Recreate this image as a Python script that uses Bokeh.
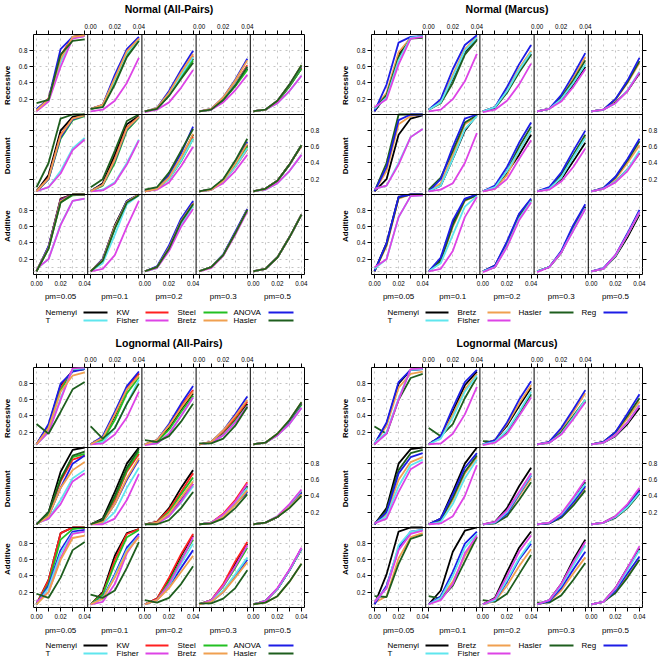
from math import pi
from bokeh.plotting import figure
from bokeh.models import Range1d, FixedTicker, LinearAxis, Grid, Span, ColumnDataSource
from bokeh.layouts import column, row
from bokeh.core.properties import value
from bokeh.embed import file_html
from bokeh.resources import INLINE

FONT = "Liberation Sans"

# ---------------- data ----------------
X_POWER = [0.00, 0.01, 0.02, 0.03, 0.04]
PM_LABELS = ["pm=0.05", "pm=0.1", "pm=0.2", "pm=0.3", "pm=0.5"]
MODEL_LABELS = ["Recessive", "Dominant", "Additive"]
TITLES = ["Normal (All-Pairs)", "Normal (Marcus)", "Lognormal (All-Pairs)", "Lognormal (Marcus)"]
X_TICKS = [0.00, 0.01, 0.02, 0.03, 0.04]
X_TICK_TEXT = {0.00: "0.00", 0.02: "0.02", 0.04: "0.04"}
Y_TICKS = [0.2, 0.4, 0.6, 0.8]
Y_TICK_TEXT = ["0.2", "0.4", "0.6", "0.8"]
Y_GRID = [0.05, 0.1, 0.2, 0.4, 0.6, 0.8]

AP_NAMES = ["Nemenyi", "KW", "Steel", "ANOVA", "T", "Fisher", "Bretz", "Hasler"]
MA_NAMES = ["Nemenyi", "Bretz", "Hasler", "Reg", "T", "Fisher"]
COLORS = {"Nemenyi": "#000000", "KW": "#ff2020", "Steel": "#22c022", "ANOVA": "#1c1ce6",
          "Reg": "#1c1ce6", "T": "#5fe6ee", "Fisher": "#dd44e6", "Bretz": "#f0a050",
          "Hasler": "#1e5e1e"}

# rows: Recessive pm=.05..pm=.5, Dominant pm=.05..pm=.5, Additive pm=.05..pm=.5
NAP_NEMENYI = [
 [.06,.20,.72,.97,.99],[.08,.12,.45,.78,.95],[.05,.08,.25,.48,.70],[.05,.07,.19,.37,.58],[.05,.07,.17,.36,.58],
 [.05,.25,.80,.97,1.0],[.05,.15,.50,.88,.98],[.05,.08,.22,.46,.75],[.05,.07,.18,.38,.62],[.05,.08,.18,.38,.62],
 [.05,.35,.95,1.0,1.0],[.05,.20,.62,.92,1.0],[.05,.10,.35,.68,.90],[.05,.10,.25,.52,.81],[.05,.08,.22,.47,.75]]
NAP_KW = [
 [.06,.21,.74,.97,.99],[.08,.13,.47,.80,.96],[.05,.08,.27,.52,.74],[.05,.07,.20,.39,.62],[.05,.07,.17,.37,.59],
 [.05,.22,.75,.95,.99],[.05,.13,.45,.84,.97],[.05,.08,.21,.45,.72],[.05,.07,.17,.35,.57],[.05,.08,.18,.38,.61],
 [.05,.35,.94,1.0,1.0],[.05,.19,.60,.90,1.0],[.05,.10,.34,.66,.89],[.05,.10,.25,.52,.81],[.05,.08,.22,.47,.75]]
NAP_STEEL = [
 [.06,.19,.70,.96,.99],[.08,.11,.42,.75,.93],[.05,.08,.25,.47,.68],[.05,.07,.19,.36,.56],[.05,.07,.17,.36,.58],
 [.05,.20,.70,.93,.98],[.05,.12,.40,.80,.96],[.05,.08,.20,.42,.70],[.05,.07,.18,.37,.60],[.05,.08,.18,.38,.62],
 [.05,.33,.90,.99,1.0],[.05,.18,.58,.90,1.0],[.05,.10,.33,.65,.88],[.05,.10,.25,.52,.81],[.05,.08,.22,.47,.75]]
NAP_ANOVA = [
 [.08,.20,.82,.97,.98],[.08,.13,.50,.82,.97],[.05,.09,.30,.56,.80],[.05,.08,.22,.44,.70],[.05,.07,.18,.38,.61],
 [.05,.20,.72,.94,.99],[.05,.13,.43,.82,.97],[.05,.09,.25,.52,.85],[.05,.07,.19,.40,.66],[.05,.08,.18,.38,.62],
 [.05,.36,.93,1.0,1.0],[.05,.20,.60,.92,1.0],[.05,.11,.37,.70,.92],[.05,.10,.26,.54,.82],[.05,.08,.22,.47,.75]]
NAP_T = [
 [.06,.18,.66,.96,.98],[.08,.12,.44,.77,.94],[.05,.08,.26,.50,.72],[.05,.07,.20,.38,.60],[.05,.07,.15,.30,.49],
 [.05,.10,.30,.58,.71],[.05,.07,.16,.40,.69],[.05,.08,.20,.43,.70],[.05,.07,.17,.35,.58],[.05,.07,.15,.30,.50],
 [.08,.20,.63,.92,.95],[.05,.15,.50,.88,.99],[.05,.09,.32,.63,.86],[.05,.10,.25,.51,.80],[.05,.08,.22,.47,.75]]
NAP_FISHER = [
 [.05,.17,.60,.95,.98],[.05,.07,.18,.40,.71],[.04,.07,.16,.34,.56],[.05,.07,.16,.31,.50],[.05,.07,.15,.30,.49],
 [.05,.10,.27,.56,.69],[.05,.06,.15,.38,.68],[.05,.07,.16,.36,.60],[.05,.07,.15,.30,.50],[.05,.07,.15,.30,.50],
 [.08,.20,.62,.92,.95],[.05,.08,.25,.60,.92],[.05,.09,.30,.60,.82],[.05,.09,.24,.50,.79],[.05,.08,.22,.47,.75]]
NAP_BRETZ = [
 [.06,.20,.70,.97,.99],[.08,.13,.46,.79,.95],[.05,.09,.28,.53,.76],[.05,.08,.22,.43,.68],[.05,.07,.18,.38,.62],
 [.05,.21,.74,.95,.99],[.05,.13,.44,.83,.97],[.05,.08,.22,.47,.76],[.05,.07,.18,.39,.64],[.05,.08,.18,.38,.62],
 [.05,.34,.92,1.0,1.0],[.05,.19,.60,.91,1.0],[.05,.10,.34,.67,.89],[.05,.10,.25,.52,.81],[.05,.08,.22,.47,.75]]
NAP_HASLER = [
 [.15,.19,.75,.92,.94],[.08,.10,.38,.72,.92],[.05,.08,.24,.45,.65],[.05,.07,.19,.37,.60],[.05,.07,.18,.38,.62],
 [.10,.40,.95,1.0,1.0],[.10,.20,.55,.92,1.0],[.07,.10,.28,.55,.82],[.05,.08,.20,.43,.70],[.05,.08,.18,.38,.62],
 [.05,.33,.90,1.0,1.0],[.05,.18,.58,.90,.99],[.05,.10,.33,.66,.88],[.05,.10,.25,.52,.81],[.05,.08,.22,.47,.75]]

NMA_NEMENYI = [
 [.05,.25,.75,.96,.98],[.07,.17,.45,.78,.95],[.05,.10,.30,.55,.76],[.05,.08,.20,.38,.60],[.05,.07,.16,.30,.52],
 [.05,.20,.75,.95,.99],[.05,.12,.45,.80,.99],[.05,.10,.28,.50,.75],[.05,.08,.20,.42,.65],[.05,.08,.17,.32,.52],
 [.05,.40,.97,1.0,1.0],[.05,.20,.65,.94,1.0],[.05,.12,.40,.75,.94],[.05,.10,.28,.60,.85],[.05,.08,.23,.47,.75]]
NMA_BRETZ = [
 [.08,.28,.78,.96,.98],[.07,.18,.50,.82,.97],[.05,.10,.32,.58,.80],[.05,.08,.23,.46,.72],[.05,.07,.19,.40,.65],
 [.05,.30,.88,.98,1.0],[.05,.15,.50,.88,.98],[.05,.08,.25,.55,.80],[.05,.08,.22,.48,.72],[.05,.08,.20,.40,.62],
 [.05,.36,.95,1.0,1.0],[.05,.17,.60,.92,.99],[.05,.10,.38,.72,.93],[.05,.10,.28,.58,.83],[.05,.08,.24,.50,.78]]
NMA_HASLER = [
 [.08,.25,.72,.95,.96],[.07,.15,.40,.75,.93],[.05,.09,.28,.53,.75],[.05,.08,.22,.43,.68],[.05,.07,.20,.41,.67],
 [.05,.40,1.0,1.0,1.0],[.07,.22,.55,.90,.99],[.05,.10,.30,.60,.85],[.05,.09,.26,.50,.75],[.05,.09,.22,.43,.67],
 [.05,.38,.96,1.0,1.0],[.05,.18,.62,.93,.99],[.05,.10,.38,.72,.93],[.05,.10,.28,.58,.83],[.05,.08,.24,.50,.78]]
NMA_REG = [
 [.05,.38,.90,.97,.98],[.07,.20,.57,.87,.99],[.05,.10,.35,.63,.87],[.05,.08,.25,.50,.77],[.05,.07,.20,.43,.71],
 [.05,.35,.93,1.0,1.0],[.05,.20,.60,.95,1.0],[.05,.12,.35,.65,.90],[.05,.10,.28,.55,.80],[.05,.09,.23,.45,.70],
 [.05,.40,.97,1.0,1.0],[.05,.22,.68,.95,1.0],[.05,.12,.42,.76,.95],[.05,.10,.30,.62,.88],[.05,.09,.25,.52,.81]]
NMA_T = [
 [.08,.22,.68,.96,.98],[.07,.16,.47,.80,.96],[.05,.10,.30,.56,.78],[.05,.08,.20,.40,.63],[.05,.07,.15,.31,.54],
 [.08,.12,.40,.72,.82],[.05,.12,.45,.82,.98],[.05,.10,.30,.55,.80],[.05,.08,.22,.47,.71],[.05,.08,.17,.32,.55],
 [.08,.20,.72,.98,.99],[.05,.15,.50,.85,.98],[.05,.10,.36,.70,.92],[.05,.10,.28,.56,.83],[.05,.08,.24,.50,.78]]
NMA_FISHER = [
 [.10,.20,.63,.95,.97],[.05,.07,.20,.42,.76],[.04,.07,.18,.38,.64],[.05,.08,.17,.35,.57],[.05,.07,.15,.30,.53],
 [.08,.12,.38,.72,.82],[.05,.07,.15,.40,.77],[.05,.08,.20,.45,.68],[.05,.07,.17,.35,.58],[.05,.08,.16,.30,.52],
 [.10,.20,.72,.98,.99],[.05,.08,.30,.72,.97],[.04,.10,.35,.68,.90],[.04,.10,.28,.55,.82],[.05,.08,.25,.50,.78]]

LAP_NEMENYI = [
 [.05,.28,.78,.96,.98],[.05,.13,.40,.73,.92],[.05,.08,.25,.48,.68],[.05,.07,.18,.35,.55],[.05,.07,.17,.33,.55],
 [.05,.20,.70,.97,1.0],[.05,.12,.45,.80,1.0],[.05,.08,.25,.50,.72],[.05,.07,.16,.32,.52],[.05,.07,.14,.27,.45],
 [.05,.35,.93,1.0,1.0],[.05,.20,.65,.93,.98],[.05,.12,.36,.65,.90],[.05,.10,.28,.55,.80],[.05,.09,.24,.47,.74]]
LAP_KW = [
 [.05,.28,.75,.97,.98],[.05,.13,.42,.75,.93],[.05,.10,.28,.52,.72],[.05,.08,.20,.38,.58],[.05,.07,.17,.33,.55],
 [.05,.18,.58,.85,.90],[.05,.10,.35,.70,.92],[.05,.08,.23,.45,.68],[.05,.07,.18,.35,.57],[.05,.07,.14,.28,.46],
 [.05,.35,.93,1.0,1.0],[.05,.18,.60,.92,.98],[.05,.12,.38,.67,.92],[.05,.10,.30,.58,.82],[.05,.09,.24,.47,.74]]
LAP_STEEL = [
 [.05,.25,.72,.96,.98],[.05,.10,.35,.68,.88],[.05,.08,.23,.45,.65],[.05,.07,.17,.34,.53],[.05,.07,.17,.33,.54],
 [.05,.18,.62,.88,.92],[.05,.10,.38,.72,.95],[.05,.07,.20,.42,.63],[.05,.07,.16,.31,.50],[.05,.07,.14,.27,.44],
 [.05,.30,.85,.98,1.0],[.05,.17,.55,.88,.97],[.05,.10,.33,.60,.85],[.05,.10,.27,.50,.75],[.05,.09,.24,.47,.73]]
LAP_ANOVA = [
 [.05,.30,.80,.95,.98],[.05,.15,.45,.77,.95],[.05,.10,.30,.55,.77],[.05,.08,.22,.42,.64],[.05,.07,.17,.34,.56],
 [.05,.15,.50,.80,.90],[.05,.08,.30,.60,.85],[.05,.07,.17,.35,.55],[.05,.06,.15,.30,.45],[.05,.07,.14,.27,.44],
 [.05,.28,.72,.95,.97],[.05,.13,.42,.75,.92],[.05,.10,.27,.50,.72],[.05,.08,.20,.40,.60],[.05,.09,.24,.47,.74]]
LAP_T = [
 [.05,.20,.62,.98,.99],[.05,.08,.25,.55,.85],[.05,.06,.18,.40,.63],[.05,.07,.16,.32,.52],[.05,.07,.16,.30,.50],
 [.06,.12,.35,.62,.72],[.05,.06,.20,.50,.75],[.05,.06,.15,.32,.52],[.05,.07,.16,.32,.50],[.05,.07,.15,.29,.47],
 [.05,.25,.68,.93,.95],[.05,.12,.40,.72,.90],[.05,.10,.28,.55,.80],[.05,.09,.22,.42,.63],[.05,.09,.24,.47,.74]]
LAP_FISHER = [
 [.05,.20,.60,.99,1.0],[.05,.06,.17,.38,.70],[.04,.06,.18,.40,.63],[.05,.07,.16,.32,.52],[.05,.07,.16,.30,.50],
 [.06,.12,.30,.58,.68],[.05,.05,.12,.35,.67],[.05,.06,.15,.33,.55],[.05,.07,.17,.33,.55],[.05,.07,.15,.30,.48],
 [.08,.20,.62,.92,.95],[.05,.08,.30,.68,.90],[.05,.10,.30,.58,.88],[.05,.10,.28,.52,.78],[.05,.09,.25,.48,.75]]
LAP_BRETZ = [
 [.05,.25,.70,.90,.94],[.05,.13,.42,.73,.90],[.05,.10,.28,.50,.70],[.05,.08,.22,.40,.60],[.05,.07,.18,.35,.57],
 [.05,.15,.50,.72,.82],[.05,.08,.30,.62,.87],[.05,.07,.18,.38,.58],[.05,.06,.14,.29,.47],[.05,.07,.14,.26,.42],
 [.05,.20,.60,.87,.90],[.05,.12,.38,.70,.88],[.05,.10,.25,.45,.65],[.05,.08,.20,.38,.57],[.05,.07,.15,.33,.55]]
LAP_HASLER = [
 [.30,.18,.45,.73,.82],[.27,.12,.25,.55,.80],[.10,.08,.15,.33,.55],[.06,.06,.12,.28,.51],[.05,.07,.18,.35,.57],
 [.05,.20,.60,.90,.95],[.05,.10,.40,.75,.98],[.05,.05,.10,.25,.45],[.05,.06,.12,.25,.42],[.05,.07,.14,.25,.40],
 [.18,.13,.38,.72,.82],[.17,.13,.22,.50,.82],[.10,.07,.13,.30,.52],[.06,.06,.12,.25,.47],[.05,.07,.15,.33,.55]]

LMA_NEMENYI = [
 [.05,.30,.80,.97,.98],[.05,.15,.45,.78,.95],[.05,.10,.28,.52,.75],[.05,.07,.18,.38,.58],[.05,.07,.15,.30,.50],
 [.05,.25,.80,.98,1.0],[.05,.12,.45,.80,1.0],[.05,.08,.25,.52,.75],[.05,.07,.17,.35,.57],[.05,.07,.15,.28,.48],
 [.05,.42,.95,1.0,1.0],[.05,.22,.70,.96,1.0],[.05,.13,.45,.75,.95],[.05,.10,.30,.60,.85],[.05,.08,.25,.50,.74]]
LMA_BRETZ = [
 [.05,.28,.75,.92,.95],[.05,.13,.42,.73,.92],[.05,.10,.30,.55,.78],[.05,.08,.23,.45,.68],[.05,.08,.18,.37,.58],
 [.05,.18,.60,.82,.88],[.05,.10,.35,.68,.88],[.05,.07,.18,.40,.62],[.05,.06,.14,.30,.50],[.05,.07,.14,.26,.44],
 [.07,.15,.62,.88,.93],[.05,.12,.33,.65,.88],[.05,.09,.28,.52,.73],[.05,.08,.22,.43,.63],[.05,.08,.20,.40,.60]]
LMA_HASLER = [
 [.27,.18,.60,.87,.92],[.25,.15,.30,.62,.88],[.09,.08,.20,.43,.67],[.05,.07,.20,.40,.60],[.05,.08,.20,.40,.62],
 [.05,.22,.72,.93,.97],[.05,.10,.38,.70,.90],[.05,.06,.15,.35,.57],[.05,.06,.13,.28,.47],[.05,.07,.13,.25,.43],
 [.15,.14,.55,.86,.91],[.15,.12,.28,.58,.88],[.10,.08,.18,.42,.66],[.07,.07,.16,.35,.56],[.05,.08,.19,.38,.60]]
LMA_REG = [
 [.05,.32,.82,.97,.98],[.05,.15,.50,.82,.97],[.05,.10,.32,.60,.83],[.05,.08,.25,.48,.72],[.05,.08,.20,.43,.67],
 [.05,.20,.68,.88,.93],[.05,.12,.42,.75,.93],[.05,.07,.18,.42,.65],[.05,.06,.15,.32,.52],[.05,.07,.14,.27,.46],
 [.05,.28,.75,.95,.97],[.05,.15,.45,.80,.95],[.05,.10,.33,.60,.80],[.05,.09,.25,.48,.70],[.05,.08,.22,.43,.64]]
LMA_T = [
 [.07,.20,.62,.97,.98],[.05,.12,.38,.70,.90],[.05,.08,.22,.45,.70],[.05,.07,.18,.38,.60],[.05,.07,.16,.32,.54],
 [.06,.15,.52,.78,.85],[.05,.08,.30,.62,.85],[.05,.07,.20,.43,.66],[.05,.07,.17,.35,.55],[.05,.07,.14,.26,.44],
 [.08,.25,.78,.95,.97],[.05,.13,.40,.75,.92],[.05,.10,.35,.62,.83],[.05,.10,.28,.53,.78],[.05,.08,.24,.47,.72]]
LMA_FISHER = [
 [.05,.18,.60,.98,.99],[.05,.06,.18,.42,.76],[.04,.07,.18,.40,.63],[.05,.07,.17,.36,.57],[.05,.07,.16,.32,.53],
 [.06,.12,.45,.73,.82],[.05,.06,.15,.40,.78],[.05,.08,.22,.45,.68],[.05,.07,.18,.38,.60],[.05,.07,.15,.30,.50],
 [.08,.25,.72,.92,.96],[.05,.10,.30,.68,.90],[.05,.12,.40,.70,.90],[.05,.10,.30,.57,.82],[.05,.08,.25,.50,.77]]

NORMAL_AP = dict(zip(AP_NAMES, [NAP_NEMENYI, NAP_KW, NAP_STEEL, NAP_ANOVA, NAP_T, NAP_FISHER, NAP_BRETZ, NAP_HASLER]))
NORMAL_MA = dict(zip(MA_NAMES, [NMA_NEMENYI, NMA_BRETZ, NMA_HASLER, NMA_REG, NMA_T, NMA_FISHER]))
LOGN_AP = dict(zip(AP_NAMES, [LAP_NEMENYI, LAP_KW, LAP_STEEL, LAP_ANOVA, LAP_T, LAP_FISHER, LAP_BRETZ, LAP_HASLER]))
LOGN_MA = dict(zip(MA_NAMES, [LMA_NEMENYI, LMA_BRETZ, LMA_HASLER, LMA_REG, LMA_T, LMA_FISHER]))

# ---------------- layout ----------------
FW, FH = 271, 240
XLO, XHI = -0.0025, 0.0425
YLO, YHI = 0.01, 1.0
XW = XHI - XLO
YH = YHI - YLO
LABW = 14          # strip holding the rotated row labels
AXL = 19           # left border of a panel (y tick labels)
TOPB, BOTB = 18, 15
R1, R2 = 34, 18
MAIN_H = TOPB + FH + BOTB
OFF = LABW + AXL   # frame left inside a column

AP_KEY_TEXT_X = [12, 83, 144, 200]
AP_KEY_LINE_X = [(50, 74), (112, 135), (170, 194), (235, 260)]
MA_KEY_TEXT_X = [16, 86, 147, 210]
MA_KEY_LINE_X = [(54, 77), (116, 139), (178, 202), (232, 256)]


def col_pos(j, v):
    return j + (v - XLO) / XW


def row_pos(i, v):
    return (2 - i) + (v - YLO) / YH


def make_axis(ticks, labels):
    return LinearAxis(ticker=FixedTicker(ticks=ticks, minor_ticks=[]),
                      major_label_overrides=labels, axis_line_color=None,
                      major_tick_in=0, major_tick_out=4, major_tick_line_color="black",
                      minor_tick_in=0, minor_tick_out=0, major_label_standoff=2,
                      major_label_text_font=FONT, major_label_text_font_size="6.3px",
                      major_label_text_color="black")


def blank(width, height, x0, y_down=True):
    f = figure(width=width, height=height, x_range=Range1d(-x0, width - x0),
               y_range=Range1d(height, 0) if y_down else Range1d(0, height),
               x_axis_type=None, y_axis_type=None, output_backend="svg",
               toolbar_location=None, min_border=0, title=None)
    f.outline_line_color = None
    return f


def panel(data, names, right):
    p = figure(frame_width=FW, frame_height=FH, x_range=Range1d(0, 5), y_range=Range1d(0, 3),
               x_axis_type=None, y_axis_type=None, output_backend="svg", toolbar_location=None,
               min_border_left=AXL, min_border_right=right, min_border_top=TOPB,
               min_border_bottom=BOTB, title=None)
    p.outline_line_color = "black"
    p.outline_line_width = 1
    p.extra_x_ranges = {f"c{j}": Range1d(XLO - j * XW, XLO + (5 - j) * XW) for j in range(5)}
    p.extra_y_ranges = {f"r{i}": Range1d(YLO - (2 - i) * YH, YLO + (1 + i) * YH) for i in range(3)}

    vgrid = [col_pos(j, v) for j in range(5) for v in X_TICKS]
    hgrid = [row_pos(i, v) for i in range(3) for v in Y_GRID]
    p.add_layout(Grid(dimension=0, ticker=FixedTicker(ticks=vgrid, minor_ticks=[]),
                      grid_line_color="#c4c4c4", grid_line_dash="dotted", grid_line_width=1))
    p.add_layout(Grid(dimension=1, ticker=FixedTicker(ticks=hgrid, minor_ticks=[]),
                      grid_line_color="#c4c4c4", grid_line_dash="dotted", grid_line_width=1))

    xt = [col_pos(j, v) for j in range(5) for v in X_TICKS]
    top_lab = {col_pos(j, v): (X_TICK_TEXT.get(v, "") if j in (1, 3) else "")
               for j in range(5) for v in X_TICKS}
    bot_lab = {col_pos(j, v): (X_TICK_TEXT.get(v, "") if j in (0, 2, 4) else "")
               for j in range(5) for v in X_TICKS}
    yt = [row_pos(i, v) for i in range(3) for v in Y_TICKS]
    left_lab = {row_pos(i, v): (t if i in (0, 2) else "")
                for i in range(3) for v, t in zip(Y_TICKS, Y_TICK_TEXT)}
    right_lab = {row_pos(i, v): (t if i == 1 else "")
                 for i in range(3) for v, t in zip(Y_TICKS, Y_TICK_TEXT)}
    p.add_layout(make_axis(xt, top_lab), "above")
    p.add_layout(make_axis(xt, bot_lab), "below")
    p.add_layout(make_axis(yt, left_lab), "left")
    p.add_layout(make_axis(yt, right_lab), "right")

    for i in range(3):
        for j in range(5):
            k = i * 5 + j
            src = ColumnDataSource(dict(
                xs=[X_POWER for _ in names],
                ys=[data[n][k] for n in names],
                color=[COLORS[n] for n in names]))
            p.multi_line(xs="xs", ys="ys", line_color="color", line_width=1.8,
                         source=src, x_range_name=f"c{j}", y_range_name=f"r{i}")

    for c in range(1, 5):
        p.add_layout(Span(location=c, dimension="height", line_color="black", line_width=1))
    for r in range(1, 3):
        p.add_layout(Span(location=r, dimension="width", line_color="black", line_width=1))
    return p


def row_labels():
    f = blank(LABW, MAIN_H, 0, y_down=False)
    ys = [MAIN_H - (TOPB + (i + 0.5) * FH / 3) for i in range(3)]
    f.text(x=[7, 7, 7], y=ys, text=MODEL_LABELS, angle=pi / 2, text_align="center",
           text_baseline="middle", text_font=value(FONT), text_font_size=value("8px"),
           text_font_style="bold", text_color="black")
    return f


def add_title(f, title, y):
    f.text(x=[FW / 2], y=[y], text=[title], text_align="center", text_baseline="middle",
           text_font=value(FONT), text_font_size=value("10.5px"), text_font_style="bold",
           text_color="black")


def add_strips(f, y):
    f.text(x=[(j + 0.5) * FW / 5 for j in range(5)], y=[y] * 5, text=PM_LABELS,
           text_align="center", text_baseline="middle", text_font=value(FONT),
           text_font_size=value("8px"), text_color="black")


def add_key(f, names, text_x, line_x, rows_y):
    tx, ty, txt, x0, x1, ly, col = [], [], [], [], [], [], []
    for idx, n in enumerate(names):
        r, c = divmod(idx, 4)
        tx.append(text_x[c]); ty.append(rows_y[r]); txt.append(n)
        x0.append(line_x[c][0]); x1.append(line_x[c][1]); ly.append(rows_y[r]); col.append(COLORS[n])
    f.text(x=tx, y=ty, text=txt, text_font=value(FONT), text_font_size=value("8px"),
           text_baseline="middle", text_align="left", text_color="black")
    f.segment(x0=x0, y0=ly, x1=x1, y1=ly, line_color=col, line_width=2)


W1 = LABW + AXL + FW + R1
W2 = LABW + AXL + FW + R2

t1 = blank(W1, 16, OFF); add_title(t1, TITLES[0], 8)
t2 = blank(W2, 16, OFF); add_title(t2, TITLES[1], 8)

p1 = panel(NORMAL_AP, AP_NAMES, R1)
p2 = panel(NORMAL_MA, MA_NAMES, R2)
p3 = panel(LOGN_AP, AP_NAMES, R1)
p4 = panel(LOGN_MA, MA_NAMES, R2)

m1 = blank(W1, 60, OFF); add_strips(m1, 7); add_key(m1, AP_NAMES, AP_KEY_TEXT_X, AP_KEY_LINE_X, [23, 31]); add_title(m1, TITLES[2], 53)
m2 = blank(W2, 60, OFF); add_strips(m2, 7); add_key(m2, MA_NAMES, MA_KEY_TEXT_X, MA_KEY_LINE_X, [23, 31]); add_title(m2, TITLES[3], 53)

b1 = blank(W1, 37, OFF); add_strips(b1, 8); add_key(b1, AP_NAMES, AP_KEY_TEXT_X, AP_KEY_LINE_X, [23, 31])
b2 = blank(W2, 37, OFF); add_strips(b2, 8); add_key(b2, MA_NAMES, MA_KEY_TEXT_X, MA_KEY_LINE_X, [23, 31])

layout = column(
    row(t1, t2),
    row(row_labels(), p1, row_labels(), p2),
    row(m1, m2),
    row(row_labels(), p3, row_labels(), p4),
    row(b1, b2),
)

with open("out.html", "w") as f:
    f.write(file_html(layout, INLINE))
